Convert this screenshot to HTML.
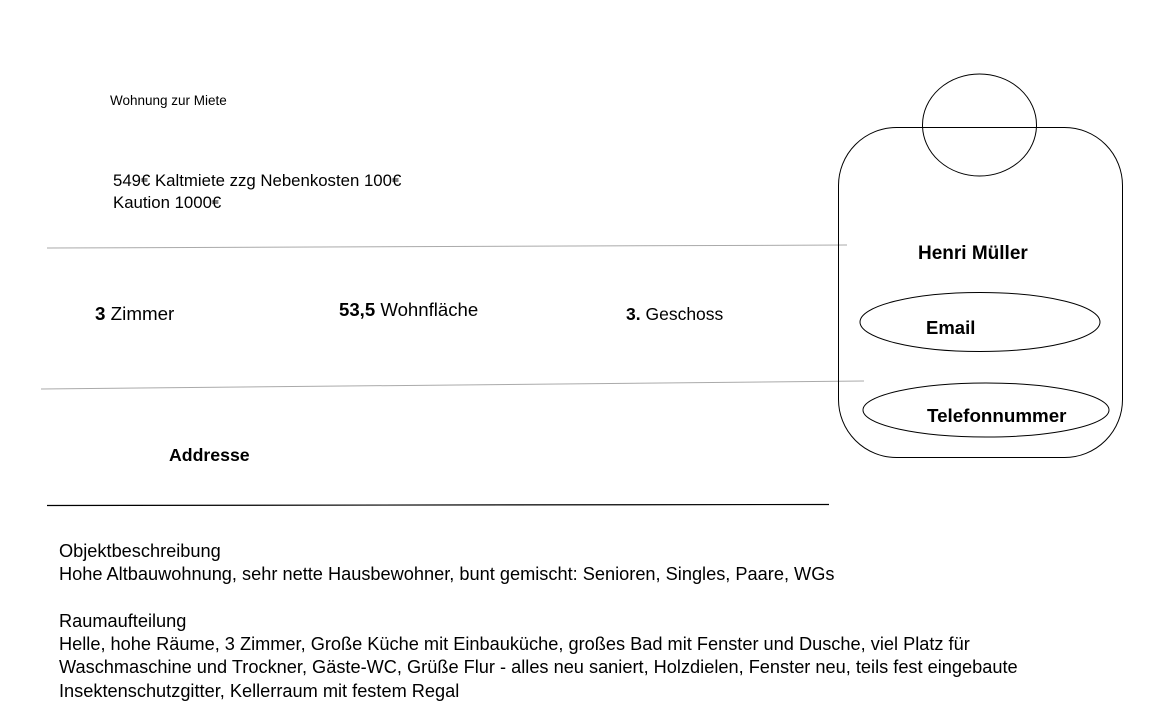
<!DOCTYPE html>
<html><head><meta charset="utf-8"><style>
body{margin:0;width:1152px;height:720px;background:#fff;position:relative;overflow:hidden;font-family:"Liberation Sans",sans-serif;color:#000}
.t{position:absolute;white-space:nowrap;line-height:1}
b{font-weight:bold}
</style></head><body>
<svg width="1152" height="720" style="position:absolute;left:0;top:0">
<line x1="47" y1="248" x2="847" y2="245" stroke="#aaa" stroke-width="1"/>
<line x1="41" y1="389" x2="864" y2="381" stroke="#aaa" stroke-width="1"/>
<line x1="47" y1="505.5" x2="829" y2="504.5" stroke="#000" stroke-width="1.2"/>
<rect x="838.5" y="127.5" width="284" height="330" rx="58" ry="58" fill="none" stroke="#000" stroke-width="1"/>
<ellipse cx="979.5" cy="125" rx="57" ry="51" fill="none" stroke="#000" stroke-width="1"/>
<ellipse cx="980" cy="322" rx="120" ry="29.5" fill="none" stroke="#000" stroke-width="1"/>
<ellipse cx="986" cy="410" rx="123" ry="27" fill="none" stroke="#000" stroke-width="1"/>
</svg>
<div class="t" style="left:110px;top:94px;font-size:13.5px">Wohnung zur Miete</div>
<div class="t" style="left:113px;top:170px;font-size:16.8px;line-height:22px">549€ Kaltmiete zzg Nebenkosten 100€<br>Kaution 1000€</div>
<div class="t" style="left:95px;top:305px;font-size:18.8px"><b>3</b> Zimmer</div>
<div class="t" style="left:339px;top:301px;font-size:18.6px"><b>53,5</b> Wohnfläche</div>
<div class="t" style="left:626px;top:306px;font-size:17.5px"><b>3.</b> Geschoss</div>
<div class="t" style="left:169px;top:447px;font-size:17.7px"><b>Addresse</b></div>
<div class="t" style="left:918px;top:244px;font-size:19px"><b>Henri Müller</b></div>
<div class="t" style="left:926px;top:319px;font-size:18.5px"><b>Email</b></div>
<div class="t" style="left:927px;top:407px;font-size:18.8px"><b>Telefonnummer</b></div>
<div class="t" style="left:59px;top:540px;font-size:18.2px;line-height:23.3px">Objektbeschreibung<br>Hohe Altbauwohnung, sehr nette Hausbewohner, bunt gemischt: Senioren, Singles, Paare, WGs<br><br>Raumaufteilung<br>Helle, hohe Räume, 3 Zimmer, Große Küche mit Einbauküche, großes Bad mit Fenster und Dusche, viel Platz für<br>Waschmaschine und Trockner, Gäste-WC, Grüße Flur - alles neu saniert, Holzdielen, Fenster neu, teils fest eingebaute<br>Insektenschutzgitter, Kellerraum mit festem Regal</div>
</body></html>
